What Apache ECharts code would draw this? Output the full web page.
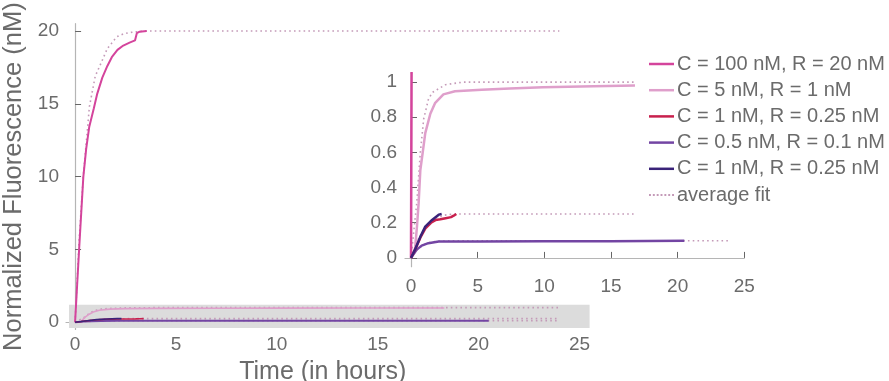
<!DOCTYPE html>
<html>
<head>
<meta charset="utf-8">
<script src="https://cdn.jsdelivr.net/npm/echarts@6/dist/echarts.min.js"></script>
<style>
  html, body { margin: 0; padding: 0; background: #fff; }
  #chart { width: 889px; height: 381px; }
</style>
</head>
<body>
<div id="chart"></div>
<script>
var myChart = echarts.init(document.getElementById('chart'));

// series names
var names = ['C = 100 nM, R = 20 nM', 'C = 5 nM, R = 1 nM', 'C = 1 nM, R = 0.25 nM',
  'C = 0.5 nM, R = 0.1 nM', 'C = 1 nM, R = 0.25 nM ', 'average fit'];

// tick values
var mainXTicks = [0, 5, 10, 15, 20, 25];
var mainYTicks = [0, 5, 10, 15, 20];
var insetXTicks = [0, 5, 10, 15, 20, 25];
var insetYTicks = [0, 0.2, 0.4, 0.6, 0.8, 1];

// measured curves [time, fluorescence]
var c100 = [[0,0],[0.1,2.5],[0.2,5],[0.3,7.4],[0.41,10],[0.55,11.9],[0.7,13.4],[0.93,14.7],[1.1,15.7],
  [1.35,16.8],[1.6,17.6],[1.82,18.2],[2.1,18.7],[2.39,19.0],[2.7,19.2],[2.97,19.35],[3.06,19.85],[3.2,19.95],[3.55,20]];
var c5Main = [[0,0],[0.3,0.06],[0.5,0.35],[0.7,0.55],[0.9,0.7],[1.2,0.82],[1.73,0.9],[2.5,0.935],[4,0.952],
  [7,0.962],[10,0.97],[14,0.976],[18.3,0.98]];
var c5Inset = [[0,0],[0.3,0.05],[0.45,0.18],[0.57,0.31],[0.7,0.5],[0.88,0.6],[1.07,0.71],[1.45,0.82],[1.8,0.88],
  [2.43,0.93],[3.3,0.948],[5.3,0.957],[7.4,0.963],[9.9,0.97],[13.7,0.976],[16.8,0.98]];
var c1 = [[0,0],[0.3,0.045],[0.7,0.115],[1.1,0.17],[1.5,0.2],[1.83,0.215],[2.2,0.22],[2.6,0.226],[3.0,0.232],[3.2,0.24],[3.4,0.25]];
var c05 = [[0,0],[0.43,0.047],[0.8,0.07],[1.3,0.084],[2.08,0.093],[5,0.094],[10,0.095],[15,0.095],[20.5,0.097]];
var c1b = [[0,0],[0.3,0.047],[0.7,0.12],[1.07,0.178],[1.58,0.216],[2.08,0.246],[2.3,0.25]];

// average fits
var fit100 = [[0,0],[0.2,5.6],[0.4,9.9],[0.71,14.8],[1.0,16.9],[1.32,17.9],[1.6,18.8],[2.06,19.6],[2.4,19.8],
  [2.73,19.9],[3.2,19.97],[3.6,20],[24,20]];
var fit5Main = [[0,0],[0.43,0.31],[0.7,0.6],[0.95,0.79],[1.3,0.9],[1.58,0.94],[2.58,0.985],[3.9,1],[24,1]];
var fit5Inset = [[0,0],[0.43,0.31],[0.7,0.6],[0.95,0.79],[1.3,0.9],[1.58,0.94],[2.58,0.985],[3.9,1],[16.7,1]];
var fit25Main = [[0,0],[0.5,0.1],[1,0.17],[1.5,0.21],[2,0.23],[2.5,0.243],[3,0.248],[3.5,0.25],[24,0.25]];
var fit25Inset = [[0,0],[0.5,0.1],[1,0.17],[1.5,0.21],[2,0.23],[2.5,0.243],[3,0.248],[3.5,0.25],[16.7,0.25]];
var fit10 = [[0,0],[0.5,0.05],[1,0.076],[1.5,0.09],[2,0.095],[3,0.098],[24,0.098]];

// zoomed region shown in the inset [x0, y0, x1, y1]
var zoomBox = [[-0.3, -0.4, 25.5, 1.2]];

var colors = ['#d4449c', '#df9fcb', '#c8204d', '#7345a3', '#3a2379', '#c49ab8'];
var font = 'Liberation Sans, Arial, sans-serif';
var txt = '#6b6b6b';
var dotIcon = 'path://M0,0h2v2h-2z M4,0h2v2h-2z M8,0h2v2h-2z M12,0h2v2h-2z M16,0h2v2h-2z M20,0h2v2h-2z M24,0h2v2h-2z';

function lineS(name, data, color, axis, width) {
  return {
    name: name, type: 'line', data: data, xAxisIndex: axis, yAxisIndex: axis,
    symbol: 'none', clip: true, z: 3,
    lineStyle: { color: color, width: width || 2 },
    itemStyle: { color: color }
  };
}
function fitS(data, axis) {
  return {
    name: 'average fit', type: 'line', data: data, xAxisIndex: axis, yAxisIndex: axis,
    symbol: 'none', clip: true, z: 2,
    lineStyle: { color: colors[5], width: 1.6, type: [1.6, 3.2] },
    itemStyle: { color: colors[5] }
  };
}
function axisCommon(ticks, fmt, margin) {
  return {
    type: 'value',
    axisLine: { show: true, lineStyle: { color: '#b5b5b5', width: 1.2 } },
    axisTick: { show: true, inside: true, length: 6, customValues: ticks, lineStyle: { color: '#666', width: 1 } },
    axisLabel: { customValues: ticks, color: txt, fontSize: 19, fontFamily: font, margin: margin, formatter: fmt },
    splitLine: { show: false }
  };
}

var mx = axisCommon(mainXTicks, null, 6);
mx.gridIndex = 0; mx.min = -0.45; mx.max = 25;
mx.name = 'Time (in hours)'; mx.nameLocation = 'middle'; mx.nameGap = 21;
mx.nameTextStyle = { color: txt, fontSize: 25, fontFamily: font };

var my = axisCommon(mainYTicks, null, 7);
my.gridIndex = 0; my.min = -0.5; my.max = 20.5;
my.name = 'Normalized Fluorescence (nM)'; my.nameLocation = 'middle'; my.nameGap = 30;
my.nameTextStyle = { color: txt, fontSize: 25.5, fontFamily: font };

var ix = axisCommon(insetXTicks, null, 11);
ix.gridIndex = 1; ix.min = -0.45; ix.max = 25;

var iy = axisCommon(insetYTicks, function (v) { return String(+v.toFixed(1)); }, 8);
iy.gridIndex = 1; iy.min = -0.05; iy.max = 1.05;

var legendData = names.map(function (n, i) {
  return { name: n, icon: i === 5 ? dotIcon : 'rect' };
});

var option = {
  backgroundColor: '#fff',
  animation: false,
  grid: [
    { left: 66, top: 23.7, width: 513.5, height: 305.8, outerBoundsMode: 'none' },
    { left: 405, top: 73.3, width: 339.3, height: 193.4, outerBoundsMode: 'none' }
  ],
  xAxis: [mx, ix],
  yAxis: [my, iy],
  legend: {
    orient: 'vertical', left: 649, top: 54, padding: 0,
    itemWidth: 25, itemHeight: 2.5, itemGap: 6.2,
    data: legendData,
    textStyle: { color: txt, fontSize: 20, fontFamily: font, padding: [0, 0, 0, -2] }
  },
  series: [
    {
      type: 'custom', xAxisIndex: 0, yAxisIndex: 0, data: zoomBox, silent: true, z: 1,
      renderItem: function (params, api) {
        var p0 = api.coord([api.value(0), api.value(3)]);
        var p1 = api.coord([api.value(2), api.value(1)]);
        return { type: 'rect', shape: { x: p0[0], y: p0[1], width: p1[0] - p0[0], height: p1[1] - p0[1] },
          style: { fill: '#dcdcdc' } };
      }
    },
    // main axes
    fitS(fit100, 0), fitS(fit5Main, 0), fitS(fit25Main, 0), fitS(fit10, 0),
    lineS(names[0], c100, colors[0], 0, 2),
    lineS(names[1], c5Main, colors[1], 0, 1.6),
    lineS(names[3], c05, colors[3], 0, 2),
    lineS(names[2], c1, colors[2], 0, 1.6),
    lineS(names[4], c1b, colors[4], 0, 1.6),
    // inset
    fitS(fit5Inset, 1), fitS(fit25Inset, 1), fitS(fit10, 1),
    lineS(names[0], c100, colors[0], 1, 2.5),
    lineS(names[1], c5Inset, colors[1], 1, 2.5),
    lineS(names[3], c05, colors[3], 1, 2.5),
    lineS(names[2], c1, colors[2], 1, 2.5),
    lineS(names[4], c1b, colors[4], 1, 2.5)
  ]
};

myChart.setOption(option, true);
</script>
</body>
</html>
